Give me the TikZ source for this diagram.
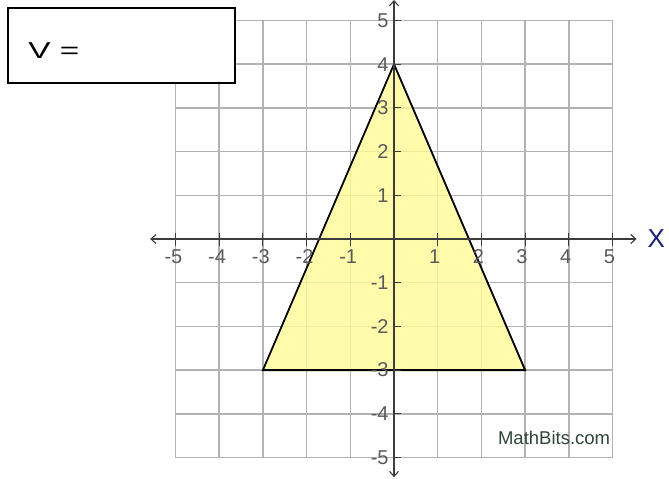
\documentclass[tikz,border=0pt]{standalone}
\usepackage{fontspec}
\setmainfont{Liberation Sans}
\usetikzlibrary{arrows.meta}
\definecolor{gridgray}{RGB}{178,178,178}
\definecolor{axisgray}{RGB}{60,60,60}
\definecolor{labgray}{RGB}{90,90,90}
\definecolor{triyellow}{RGB}{255,250,150}
\definecolor{xblue}{RGB}{30,30,120}
\definecolor{mbgreen}{RGB}{45,70,55}
\tikzset{
  gridline/.style={draw=gridgray, line width=1.5pt},
  axisline/.style={draw=axisgray, line width=1.1pt, {Straight Barb[length=5pt,width=9pt]}-{Straight Barb[length=5pt,width=9pt]}},
  tickline/.style={draw=axisgray, line width=1pt},
  ticklab/.style={text=labgray, font=\fontsize{20}{20}\selectfont, inner sep=0pt},
  tri/.style={fill=triyellow, fill opacity=0.8, draw=black, line width=1.8pt, line join=miter},
  vbox/.style={draw=black, fill=white, line width=2.4pt},
}
\begin{document}
\begin{tikzpicture}[x=1pt,y=-1pt]
\useasboundingbox[fill=white] (0,0) rectangle (669,479);
\begin{scope}[shift={(394,239)}, x=43.7pt, y=43.7pt]
  \foreach \k in {-5,...,5} {
    \draw[gridline] (\k,-5) -- (\k,5);
    \draw[gridline] (-5,\k) -- (5,\k);
  }
  \coordinate (A) at (0,4);
  \coordinate (B) at (3,-3);
  \coordinate (C) at (-3,-3);
  \filldraw[tri] (A) -- (B) -- (C) -- cycle;
  \coordinate (xl) at (-5.58,0);
  \coordinate (xr) at (5.55,0);
  \coordinate (yt) at (0,5.47);
  \coordinate (yb) at (0,-5.45);
  \draw[axisline] (xl) -- (xr);
  \draw[axisline] (yb) -- (yt);
  \foreach \i in {-5,...,-1,1,2,...,5} {
    \draw[tickline] (\i,0.14) -- (\i,-0.16);
    \draw[tickline] (0,\i) -- (0.15,\i);
    \node[ticklab, anchor=east] at (-0.12,\i) {\i};
  }
  \foreach \i in {-5,...,-1} \node[ticklab, anchor=north east] at (\i+0.16,-0.24) {\i};
  \foreach \i in {1,...,5} \node[ticklab, anchor=north] at (\i-0.07,-0.24) {\i};
  \node[text=xblue, font=\fontsize{26}{26}\selectfont, inner sep=0pt, anchor=west] (X) at (5.8,0.02) {X};
  \node[text=mbgreen, font=\fontsize{18.5}{18.5}\selectfont, inner sep=0pt, anchor=south east] (mb) at (4.95,-4.72) {MathBits.com};
\end{scope}
\node[vbox, minimum width=227pt, minimum height=75pt, anchor=north west] (box) at (7,7) {};
\node[font=\fontsize{23}{23}\selectfont, inner sep=0pt, anchor=west, xscale=1.45] (V) at (28,51) {V =};
\end{tikzpicture}
\end{document}
